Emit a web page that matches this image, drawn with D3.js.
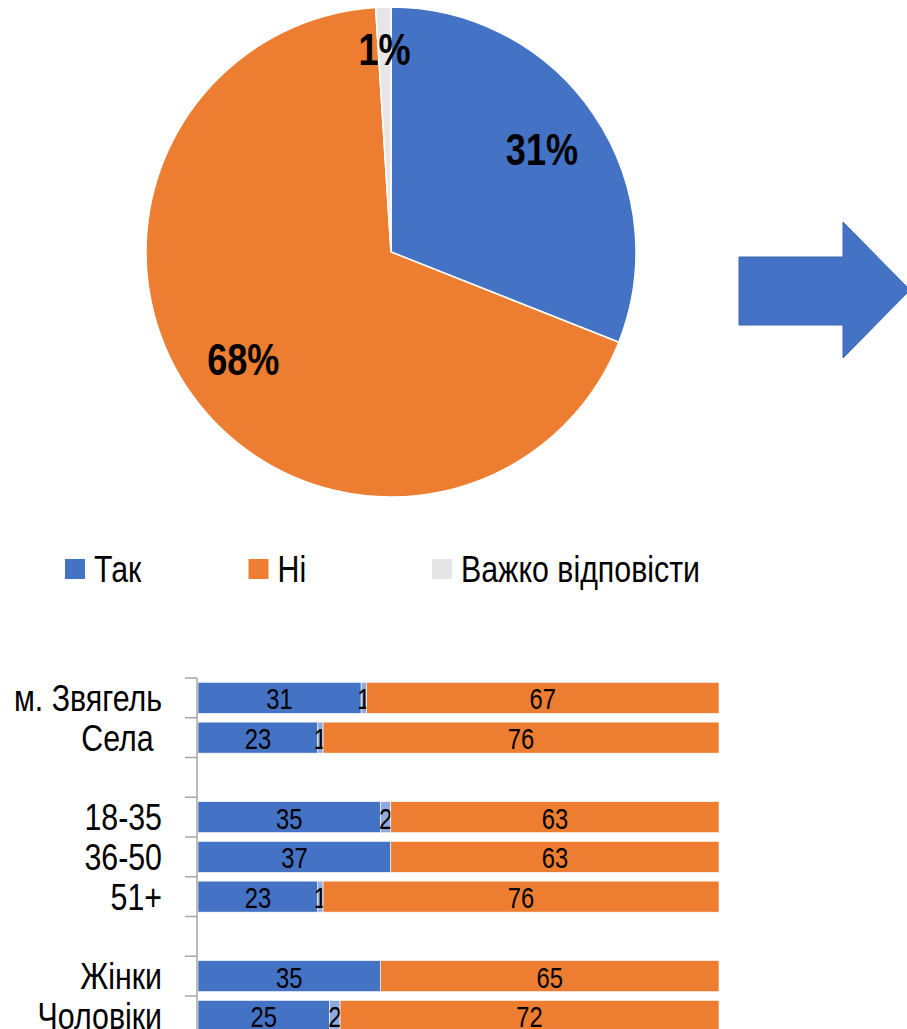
<!DOCTYPE html>
<html>
<head>
<meta charset="utf-8">
<script src="https://cdn.jsdelivr.net/npm/d3@7"></script>
<style>
  body { margin: 0; background: #fff; }
  svg text { font-family: "Liberation Sans Narrow", "Arial Narrow", "Liberation Sans", Arial, sans-serif; }
</style>
</head>
<body>
<svg id="chart" width="907" height="1029"></svg>
<script>
(function() {

  // pie data
  var answers = ["Так", "Ні", "Важко відповісти"];
  var totalShares = [31, 68, 1];

  // bar data
  var groups = ["м. Звягель", "Села ", "", "18-35", "36-50", "51+", "", "Жінки", "Чоловіки"];
  var yesValues = [31, 23, null, 35, 37, 23, null, 35, 25];
  var hardValues = [1, 1, null, 2, 0, 1, null, 0, 2];
  var noValues = [67, 76, null, 63, 63, 76, null, 65, 72];

  var pieColors = ["#4472c4", "#ed7d31", "#e7e6e6"];
  var barColors = ["#4472c4", "#8faadc", "#ed7d31"];

  // no narrow font installed, so squeeze the regular one
  var squeeze = 0.82;
  function place(x, y) {
    return "translate(" + x + "," + y + ") scale(" + squeeze + ",1)";
  }

  var svg = d3.select("#chart");

  // ---- pie ----
  var radius = 245;
  var pieG = svg.append("g").attr("transform", "translate(391, 252)");

  var pie = d3.pie().sort(null).value(d => d);
  var arc = d3.arc().innerRadius(0).outerRadius(radius);
  var slices = pie(totalShares);

  pieG.selectAll("path")
    .data(slices)
    .enter().append("path")
    .attr("d", arc)
    .attr("fill", (d, i) => pieColors[i])
    .attr("stroke", "#fff")
    .attr("stroke-width", 1.5);

  // small slices get their label pushed further out
  pieG.selectAll("text")
    .data(slices)
    .enter().append("text")
    .attr("transform", d => {
      var r = d.data < 5 ? radius * 0.83 : radius * 0.745;
      var c = d3.arc().innerRadius(r).outerRadius(r).centroid(d);
      return place(c[0], c[1]);
    })
    .attr("text-anchor", "middle")
    .attr("dy", "0.36em")
    .attr("font-size", 44)
    .attr("font-weight", "bold")
    .attr("fill", "#000")
    .text(d => d.data + "%");

  // ---- arrow ----
  svg.append("path")
    .attr("d", "M739,257 L843,257 L843,222 L910,290 L843,358 L843,325 L739,325 Z")
    .attr("fill", "#4472c4")
    .attr("stroke", "#3a68a8")
    .attr("stroke-width", 1);

  // ---- legend ----
  var legendX = d3.scalePoint().domain(answers).range([65, 432]);
  var legend = svg.append("g").attr("transform", "translate(0, 559)");
  var items = legend.selectAll("g")
    .data(answers)
    .enter().append("g")
    .attr("transform", d => "translate(" + legendX(d) + ",0)");
  items.append("rect")
    .attr("width", 20).attr("height", 20)
    .attr("fill", (d, i) => pieColors[i]);
  items.append("text")
    .attr("transform", place(29, 10))
    .attr("dy", "0.36em")
    .attr("font-size", 37)
    .attr("fill", "#000")
    .text(d => d);

  // ---- stacked bars ----
  var left = 198, right = 719;
  var rows = groups.map((g, i) => ({
    key: i, name: g,
    yes: yesValues[i], hard: hardValues[i], no: noValues[i]
  }));

  var yScale = d3.scaleBand()
    .domain(rows.map(d => d.key))
    .range([678, 678 + 39.75 * groups.length])
    .paddingInner(0.22)
    .paddingOuter(0.11);

  var xScale = d3.scaleLinear().domain([0, 1]).range([left, right]);

  var stack = d3.stack()
    .keys(["yes", "hard", "no"])
    .offset(d3.stackOffsetExpand);

  var series = stack(rows.filter(d => d.yes !== null));

  var barG = svg.append("g");
  series.forEach((s, si) => {
    var g = barG.append("g");
    g.selectAll("rect")
      .data(s)
      .enter().append("rect")
      .attr("x", d => xScale(d[0]))
      .attr("y", d => yScale(d.data.key))
      .attr("width", d => xScale(d[1]) - xScale(d[0]))
      .attr("height", yScale.bandwidth())
      .attr("fill", barColors[si])
      .attr("stroke", "#fff")
      .attr("stroke-width", 0.6);
    g.selectAll("text")
      .data(s.filter(d => d.data[s.key] > 0))
      .enter().append("text")
      .attr("transform", d => place((xScale(d[0]) + xScale(d[1])) / 2,
                                    yScale(d.data.key) + yScale.bandwidth() / 2 + 1))
      .attr("dy", "0.36em")
      .attr("text-anchor", "middle")
      .attr("font-size", 29)
      .attr("fill", "#000")
      .text(d => d.data[s.key]);
  });

  // category axis
  var axisG = svg.append("g").attr("transform", "translate(197,0)");
  var step = yScale.step();
  var bounds = d3.range(groups.length + 1).map(i => yScale.range()[0] + i * step);
  axisG.append("line")
    .attr("x1", 0).attr("x2", 0)
    .attr("y1", bounds[0]).attr("y2", bounds[bounds.length - 1])
    .attr("stroke", "#a6a6a6").attr("stroke-width", 1.5);
  axisG.selectAll("line.tick")
    .data(bounds)
    .enter().append("line")
    .attr("class", "tick")
    .attr("x1", -12).attr("x2", 0)
    .attr("y1", d => d).attr("y2", d => d)
    .attr("stroke", "#a6a6a6").attr("stroke-width", 1.5);
  axisG.selectAll("text")
    .data(rows)
    .enter().append("text")
    .attr("transform", d => place(-35, yScale(d.key) + yScale.bandwidth() / 2))
    .attr("dy", "0.36em")
    .attr("text-anchor", "end")
    .attr("font-size", 37)
    .attr("fill", "#000")
    .style("white-space", "pre")
    .text(d => d.name);

})();
</script>
</body>
</html>
